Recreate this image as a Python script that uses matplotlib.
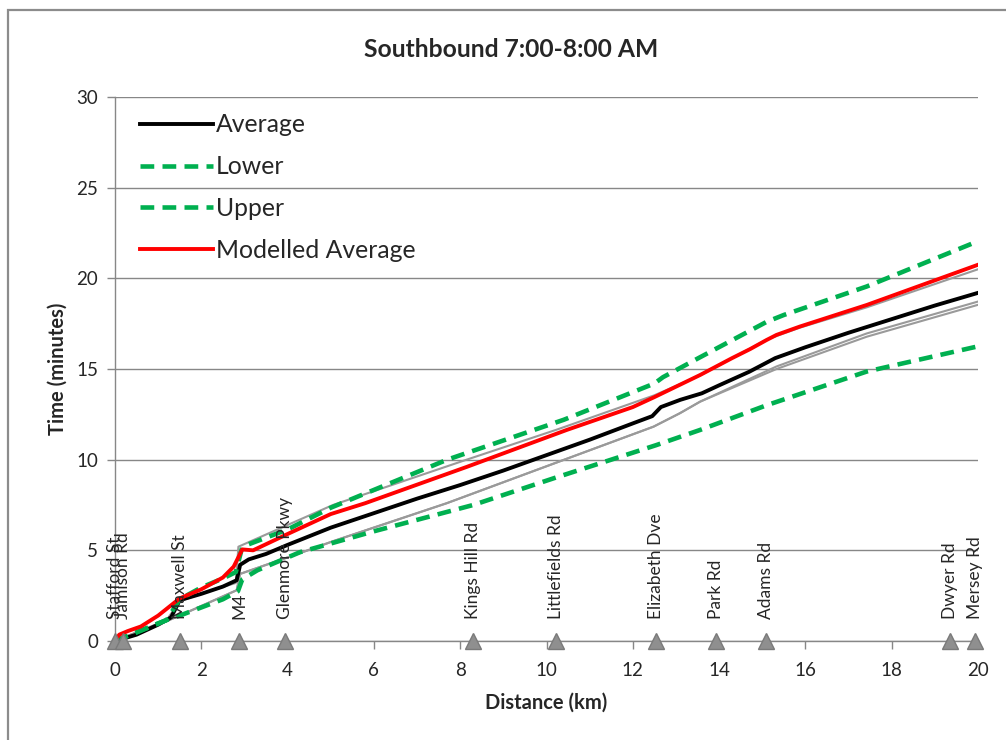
import matplotlib
matplotlib.use("Agg")
import matplotlib.pyplot as plt
from matplotlib.patches import Rectangle

plt.rcParams['font.family'] = ['Lato', 'DejaVu Sans']

# Stops along the route (km from Stafford St)
stop_names = ["Stafford St", "Jamison Rd", "Maxwell St", "M4", "Glenmore Pkwy",
              "Kings Hill Rd", "Littlefields Rd", "Elizabeth Dve", "Park Rd",
              "Adams Rd", "Dwyer Rd", "Mersey Rd"]
stop_km = [0.0, 0.18, 1.5, 2.88, 3.95, 8.3, 10.22, 12.53, 13.93, 15.08, 19.35, 19.92]

# Observed average travel time
avg_km = [0, 0.15, 0.5, 1.0, 1.3, 1.5, 2.0, 2.5, 2.82, 2.9, 3.1, 3.5, 4.0, 5.0, 6.0,
          7.0, 8.0, 9.0, 10.0, 11.0, 12.0, 12.45, 12.65, 13.1, 13.6, 14.0, 14.7, 15.3,
          16.0, 17.0, 18.0, 19.0, 20.0]
avg_min = [0, 0.1, 0.35, 0.9, 1.3, 2.25, 2.6, 3.0, 3.35, 4.2, 4.5, 4.8, 5.3, 6.25, 7.05,
           7.85, 8.6, 9.4, 10.25, 11.1, 12.0, 12.4, 12.9, 13.3, 13.66, 14.1, 14.85, 15.6,
           16.2, 17.0, 17.75, 18.5, 19.2]

# Confidence bounds
lower_km = [0, 0.35, 1.2, 1.5, 2.0, 2.5, 2.85, 2.95, 3.3, 4.29, 6.0, 8.3, 10.2, 12.54,
            13.56, 15.1, 17.42, 20.0]
lower_min = [0, 0.33, 1.16, 1.4, 1.85, 2.3, 2.75, 3.4, 3.9, 4.9, 6.05, 7.5, 9.0, 10.8,
             11.64, 13.0, 14.86, 16.25]

upper_km = [0, 0.35, 1.2, 1.5, 2.0, 2.5, 2.8, 2.95, 4.0, 5.0, 7.7, 10.4, 12.5, 12.7,
            13.56, 15.1, 15.5, 17.42, 20.0]
upper_min = [0, 0.33, 1.16, 2.3, 2.95, 3.45, 3.8, 5.2, 6.15, 7.35, 10.0, 12.2, 14.2,
             14.55, 15.65, 17.6, 17.98, 19.55, 22.05]

# Modelled average travel time
model_km = [0, 0.1, 0.3, 0.6, 1.0, 1.5, 2.0, 2.5, 2.75, 2.95, 3.2, 4.0, 5.0, 5.8, 8.15,
            10.47, 12.0, 12.5, 13.56, 14.3, 14.72, 15.1, 15.33, 15.87, 17.42, 20.0]
model_min = [0, 0.35, 0.55, 0.8, 1.4, 2.35, 2.85, 3.5, 4.1, 5.05, 5.0, 5.9, 7.0, 7.6, 9.6,
             11.64, 12.9, 13.45, 14.67, 15.6, 16.1, 16.6, 16.88, 17.34, 18.53, 20.75]

# Individual survey runs
run1_km = [0, 0.35, 1.2, 1.5, 2.0, 2.8, 2.86, 5.05, 8.15, 10.23, 12.5, 13.56, 15.1,
           15.87, 17.42, 20.0]
run1_min = [0, 0.33, 1.16, 2.2, 2.6, 3.2, 5.2, 7.5, 10.0, 11.65, 13.55, 14.65, 16.62,
            17.28, 18.4, 20.5]

run2_km = [0, 0.35, 1.2, 1.5, 2.82, 2.9, 4.29, 5.05, 7.69, 10.39, 12.48, 13.09, 13.56,
           15.33, 17.42, 20.0]
run2_min = [0, 0.33, 1.1, 1.4, 2.8, 3.7, 4.85, 5.5, 7.6, 9.98, 11.82, 12.56, 13.2,
            15.14, 16.96, 18.72]

run3_km = [0, 0.35, 1.2, 1.5, 2.82, 2.9, 4.29, 5.05, 7.69, 10.39, 12.48, 13.09, 13.56,
           15.33, 17.42, 20.0]
run3_min = [0, 0.33, 1.1, 1.4, 2.8, 3.7, 4.85, 5.5, 7.6, 9.98, 11.82, 12.56, 13.2,
            15.0, 16.78, 18.54]

x_ticks = [0, 2, 4, 6, 8, 10, 12, 14, 16, 18, 20]
y_ticks = [0, 5, 10, 15, 20, 25, 30]

GRID = '#878787'
TEXT = '#262626'
GREEN = '#00B050'

fig = plt.figure(figsize=(10.06, 7.40), dpi=100)

# outer chart border
fig.patches.append(Rectangle((8 / 1006, -0.5), 2.0, 0.5 + (1 - 10 / 740),
                             transform=fig.transFigure, fill=False,
                             edgecolor='#8c8c8c', linewidth=1.6))

ax = fig.add_axes([0.1143, 0.1338, 0.8579, 0.7351])
ax.set_xlim(0, 20)
ax.set_ylim(0, 30)
ax.set_xticks(x_ticks)
ax.set_yticks(y_ticks)
ax.yaxis.grid(True, color=GRID, linewidth=1.0)
ax.set_axisbelow(True)
for side in ('top', 'right'):
    ax.spines[side].set_visible(False)
for side in ('left', 'bottom'):
    ax.spines[side].set_color(GRID)
    ax.spines[side].set_linewidth(1.0)
ax.tick_params(axis='both', direction='out', length=6, width=1.0, color=GRID,
               labelsize=13.5, labelcolor=TEXT)
ax.tick_params(axis='x', pad=9)
ax.tick_params(axis='y', pad=6)

run_style = dict(color='#9a9a9a', linewidth=1.5, zorder=2)
ax.plot(run1_km, run1_min, **run_style)
ax.plot(run2_km, run2_min, **run_style)
ax.plot(run3_km, run3_min, **run_style)

ax.plot(avg_km, avg_min, color='black', linewidth=2.8, label='Average', zorder=3)
dash = dict(color=GREEN, linewidth=3.3, dashes=(3.0, 1.8), zorder=4)
ax.plot(lower_km, lower_min, label='Lower', **dash)
ax.plot(upper_km, upper_min, label='Upper', **dash)
ax.plot(model_km, model_min, color='#FF0000', linewidth=2.8, label='Modelled Average',
        zorder=5)

# stop markers and names
ax.plot(stop_km, [0] * len(stop_km), linestyle='none', marker='^', markersize=11,
        markerfacecolor='#8f8f8f', markeredgecolor='#7a7a7a', clip_on=False, zorder=6)
for name, km in zip(stop_names, stop_km):
    ax.text(km, 1.2, name, rotation=90, ha='center', va='bottom', fontsize=12.5,
            color=TEXT, zorder=7)

ax.set_xlabel('Distance (km)', fontsize=14.5, fontweight='bold', color=TEXT, labelpad=10)
ax.set_ylabel('Time (minutes)', fontsize=14.5, fontweight='bold', color=TEXT, labelpad=6)
fig.text(0.508, 0.933, 'Southbound 7:00-8:00 AM', ha='center', va='center',
         fontsize=17.7, fontweight='bold', color=TEXT)

ax.legend(loc='upper left', bbox_to_anchor=(0.018, 0.988), frameon=False,
          fontsize=17.8, handlelength=2.95, handletextpad=0.1, labelspacing=0.76,
          borderaxespad=0.0, labelcolor=TEXT)

fig.savefig('out.png', dpi=100)
